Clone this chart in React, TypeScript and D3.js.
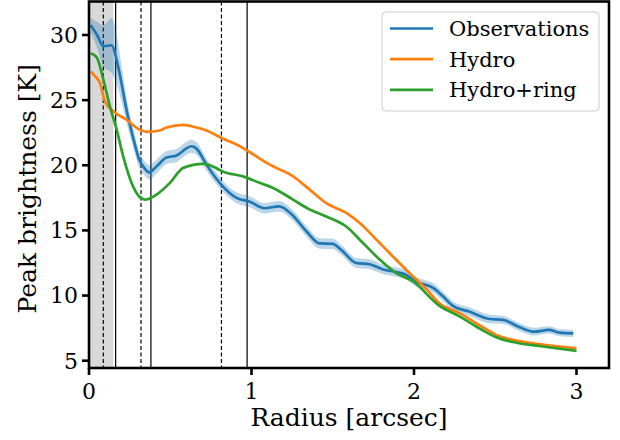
import React from "react";
import * as d3 from "d3";

const obsR = [0.01, 0.05, 0.088, 0.14, 0.17, 0.2, 0.23, 0.27, 0.31, 0.34, 0.369, 0.415, 0.477, 0.539, 0.6, 0.63, 0.66, 0.723, 0.77, 0.815, 0.908, 0.99, 1.08, 1.17, 1.25, 1.34, 1.42, 1.5, 1.553, 1.645, 1.727, 1.81, 1.89, 1.95, 2.01, 2.12, 2.18, 2.24, 2.34, 2.465, 2.547, 2.65, 2.74, 2.83, 2.895, 2.98];
const obsT = [30.75, 30.0, 29.15, 29.2, 28.1, 26.3, 24.3, 22.2, 20.4, 19.8, 19.46, 19.9, 20.6, 20.75, 21.3, 21.46, 21.3, 20.05, 19.2, 18.5, 17.5, 17.2, 16.7, 16.85, 16.2, 14.9, 14.0, 13.97, 13.5, 12.5, 12.4, 12.0, 11.8, 11.6, 11.08, 10.57, 9.92, 9.2, 8.77, 8.2, 8.13, 7.57, 7.23, 7.36, 7.15, 7.1];
const obsErr = [0.6, 1.0, 1.6, 2.1, 1.9, 1.4, 1.0, 0.75, 0.6, 0.55, 0.55, 0.55, 0.5, 0.5, 0.5, 0.5, 0.5, 0.45, 0.45, 0.42, 0.42, 0.42, 0.4, 0.4, 0.4, 0.4, 0.4, 0.4, 0.38, 0.38, 0.38, 0.36, 0.36, 0.36, 0.36, 0.35, 0.35, 0.35, 0.33, 0.33, 0.32, 0.3, 0.3, 0.28, 0.28, 0.28];

const hydroR = [0.01, 0.04, 0.068, 0.098, 0.15, 0.23, 0.31, 0.354, 0.436, 0.477, 0.58, 0.66, 0.723, 0.815, 0.908, 0.99, 1.09, 1.153, 1.256, 1.358, 1.46, 1.583, 1.666, 1.768, 1.87, 1.973, 2.08, 2.157, 2.28, 2.42, 2.506, 2.63, 2.77, 3.0];
const hydroT = [27.2, 26.8, 26.3, 24.9, 24.15, 23.5, 22.75, 22.57, 22.67, 22.9, 23.1, 22.9, 22.67, 22.1, 21.6, 21.0, 20.2, 19.8, 19.15, 18.13, 17.1, 16.34, 15.57, 14.3, 13.0, 11.72, 10.44, 9.4, 8.65, 7.6, 6.98, 6.54, 6.28, 5.95];

const ringR = [0.01, 0.047, 0.088, 0.129, 0.17, 0.21, 0.27, 0.344, 0.415, 0.498, 0.58, 0.703, 0.763, 0.826, 0.948, 1.05, 1.133, 1.256, 1.358, 1.46, 1.583, 1.686, 1.79, 1.89, 1.994, 2.157, 2.28, 2.42, 2.506, 2.63, 2.77, 3.0];
const ringT = [28.6, 28.3, 26.6, 24.5, 22.75, 20.7, 18.4, 17.36, 17.75, 18.65, 19.8, 20.1, 19.9, 19.5, 19.15, 18.65, 18.26, 17.36, 16.6, 16.07, 15.3, 14.03, 12.75, 11.72, 11.08, 9.2, 8.4, 7.36, 6.8, 6.38, 6.13, 5.75];

const dashedLines = [0.088, 0.32, 0.815];
const solidLines = [0.164, 0.381, 0.973];
const beamWidth = 0.15;

const xTicks = [0, 1, 2, 3];
const yTicks = [5, 10, 15, 20, 25, 30];

const seriesNames = ["Observations", "Hydro", "Hydro+ring"];
const seriesColors = ["#1f77b4", "#ff7f0e", "#2ca02c"];

const W = 620, H = 440;
const L = 89, R = 609, T = 1.5, B = 368;
const FONT = "DejaVu Serif";

export default function App() {
  const x = d3.scaleLinear().domain([0, 3.2]).range([L, R]);
  const y = d3.scaleLinear().domain([4.44, 32.57]).range([B, T]);

  const obs = obsR.map((r, i) => ({ r, t: obsT[i], e: obsErr[i] }));
  const hydro = hydroR.map((r, i) => ({ r, t: hydroT[i] }));
  const ring = ringR.map((r, i) => ({ r, t: ringT[i] }));

  const line = d3.line<{ r: number; t: number }>().x(d => x(d.r)).y(d => y(d.t)).curve(d3.curveMonotoneX);
  const area = d3.area<{ r: number; t: number; e: number }>()
    .x(d => x(d.r)).y0(d => y(d.t - d.e)).y1(d => y(d.t + d.e)).curve(d3.curveMonotoneX);

  const legX = 382, legY = 12;
  return (
    <svg width={W} height={H} style={{ display: "block", position: "absolute", left: 0, top: 0 }} fontFamily={FONT}>
      <rect x={0} y={0} width={W} height={H} fill="white" />
      <defs>
        <clipPath id="plot"><rect x={L} y={T} width={R - L} height={B - T} /></clipPath>
      </defs>
      <g clipPath="url(#plot)">
        <rect x={x(0)} y={T} width={x(beamWidth) - x(0)} height={B - T} fill="#d9d9d9" />
        {dashedLines.map((v, i) => (
          <line key={"d" + i} x1={x(v)} x2={x(v)} y1={T} y2={B} stroke="black" strokeWidth={1.2} strokeDasharray="4,2.5" />
        ))}
        {solidLines.map((v, i) => (
          <line key={"s" + i} x1={x(v)} x2={x(v)} y1={T} y2={B} stroke="black" strokeWidth={1.2} />
        ))}
        <path d={area(obs) || ""} fill={seriesColors[0]} fillOpacity={0.3} />
        <path d={line(obs) || ""} fill="none" stroke={seriesColors[0]} strokeWidth={2.7} />
        <path d={line(hydro) || ""} fill="none" stroke={seriesColors[1]} strokeWidth={2.7} />
        <path d={line(ring) || ""} fill="none" stroke={seriesColors[2]} strokeWidth={2.7} />
      </g>
      <rect x={L} y={T} width={R - L} height={B - T} fill="none" stroke="black" strokeWidth={2.6} />
      {xTicks.map(v => (
        <g key={"x" + v}>
          <line x1={x(v)} x2={x(v)} y1={B} y2={B + 7} stroke="black" strokeWidth={2.6} />
          <text x={x(v)} y={B + 31} textAnchor="middle" fontSize={22}>{v}</text>
        </g>
      ))}
      {yTicks.map(v => (
        <g key={"y" + v}>
          <line x1={L - 7} x2={L} y1={y(v)} y2={y(v)} stroke="black" strokeWidth={2.6} />
          <text x={L - 11} y={y(v)} dy="0.36em" textAnchor="end" fontSize={22}>{v}</text>
        </g>
      ))}
      <text x={(L + R) / 2} y={426} textAnchor="middle" fontSize={25}>Radius [arcsec]</text>
      <text transform={`translate(36,${(T + B) / 2 + 4}) rotate(-90)`} textAnchor="middle" fontSize={25}>Peak brightness [K]</text>
      <rect x={legX} y={legY} width={217} height={99} rx={4} fill="white" fillOpacity={0.8} stroke="#cccccc" strokeWidth={1} />
      {seriesNames.map((n, i) => (
        <g key={n}>
          <line x1={390} x2={433} y1={28.5 + i * 30.7} y2={28.5 + i * 30.7} stroke={seriesColors[i]} strokeWidth={2.7} />
          <text x={449} y={28.5 + i * 30.7} dy="0.36em" fontSize={21}>{n}</text>
        </g>
      ))}
    </svg>
  );
}
